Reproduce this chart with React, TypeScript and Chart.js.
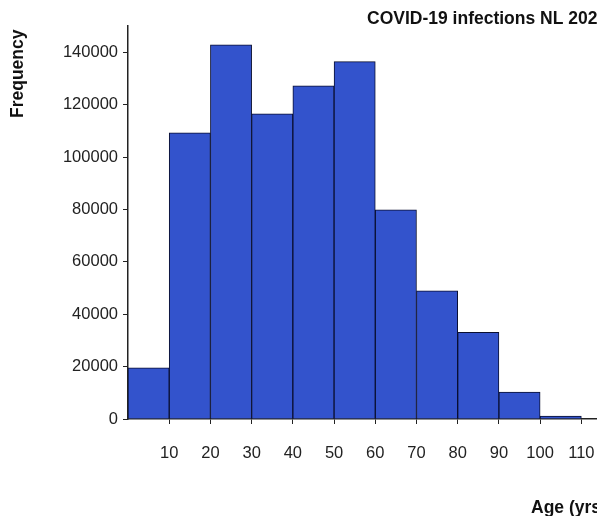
import React, { useEffect, useRef } from "react";
import { Chart, registerables } from "chart.js";

Chart.register(...registerables);

const binStarts = [0, 10, 20, 30, 40, 50, 60, 70, 80, 90, 100];
const binWidth = 10;
const frequencies = [19500, 109200, 142800, 116500, 127200, 136400, 79800, 48900, 33100, 10300, 1100];
const xTickValues = [10, 20, 30, 40, 50, 60, 70, 80, 90, 100, 110];
const yTickValues = [0, 20000, 40000, 60000, 80000, 100000, 120000, 140000];
const titleText = "COVID-19 infections NL 2020";
const yTitleText = "Frequency";
const xTitleText = "Age (yrs)";

const textPlugin = {
  id: "customText",
  afterDraw(chart: any) {
    const ctx = chart.ctx;
    ctx.save();
    ctx.fillStyle = "#111";
    ctx.font = "bold 17.5px 'Liberation Sans', Arial, sans-serif";
    ctx.textBaseline = "alphabetic";
    ctx.textAlign = "left";
    ctx.fillText(titleText, 367, 24);
    ctx.fillText(xTitleText, 531, 513);
    ctx.translate(23, 118);
    ctx.rotate(-Math.PI / 2);
    ctx.fillText(yTitleText, 0, 0);
    ctx.restore();
  },
};

export default function App() {
  const ref = useRef<HTMLCanvasElement | null>(null);
  useEffect(() => {
    if (!ref.current) return;
    const data = binStarts.map((s, i) => ({ x: s + binWidth / 2, y: frequencies[i] }));
    const chart = new Chart(ref.current, {
      type: "bar",
      data: {
        datasets: [
          {
            data: data as any,
            backgroundColor: "#3353CC",
            borderColor: "#0a0f30",
            borderWidth: 1,
            barPercentage: 1,
            categoryPercentage: 1,
          },
        ],
      },
      options: {
        animation: false,
        responsive: false,
        maintainAspectRatio: false,
        layout: { padding: { top: 26, left: 0, right: 0, bottom: 0 } },
        plugins: { legend: { display: false }, tooltip: { enabled: false }, title: { display: false } },
        scales: {
          x: {
            type: "linear",
            min: 0,
            max: 113.8,
            offset: false,
            afterFit: (s: any) => {
              s.height = 97;
              s.paddingLeft = 0;
              s.paddingRight = 0;
            },
            afterBuildTicks: (s: any) => {
              s.ticks = xTickValues.map((v) => ({ value: v }));
            },
            grid: { offset: false, drawOnChartArea: false, drawTicks: true, tickLength: 5, color: "#222" },
            border: { display: true, color: "#222", width: 1.5 },
            ticks: {
              color: "#222",
              padding: 20,
              maxRotation: 0,
              autoSkip: false,
              font: { family: "'Liberation Sans', Arial, sans-serif", size: 16.5 },
            },
          },
          y: {
            min: 0,
            max: 150000,
            afterFit: (s: any) => {
              s.width = 128;
              s.paddingTop = 0;
              s.paddingBottom = 0;
            },
            afterBuildTicks: (s: any) => {
              s.ticks = yTickValues.map((v) => ({ value: v }));
            },
            grid: { drawOnChartArea: false, drawTicks: true, tickLength: 5, color: "#222" },
            border: { display: true, color: "#222", width: 1.5 },
            ticks: {
              color: "#222",
              padding: 5,
              autoSkip: false,
              callback: (v: any) => String(v),
              font: { family: "'Liberation Sans', Arial, sans-serif", size: 16.5 },
            },
          },
        },
      },
      plugins: [textPlugin],
    });
    return () => chart.destroy();
  }, []);
  return (
    <div style={{ position: "absolute", left: 0, top: 0, width: 597, height: 516, background: "#fff" }}>
      <canvas ref={ref} width={597} height={516} style={{ width: 597, height: 516, display: "block" }} />
    </div>
  );
}
